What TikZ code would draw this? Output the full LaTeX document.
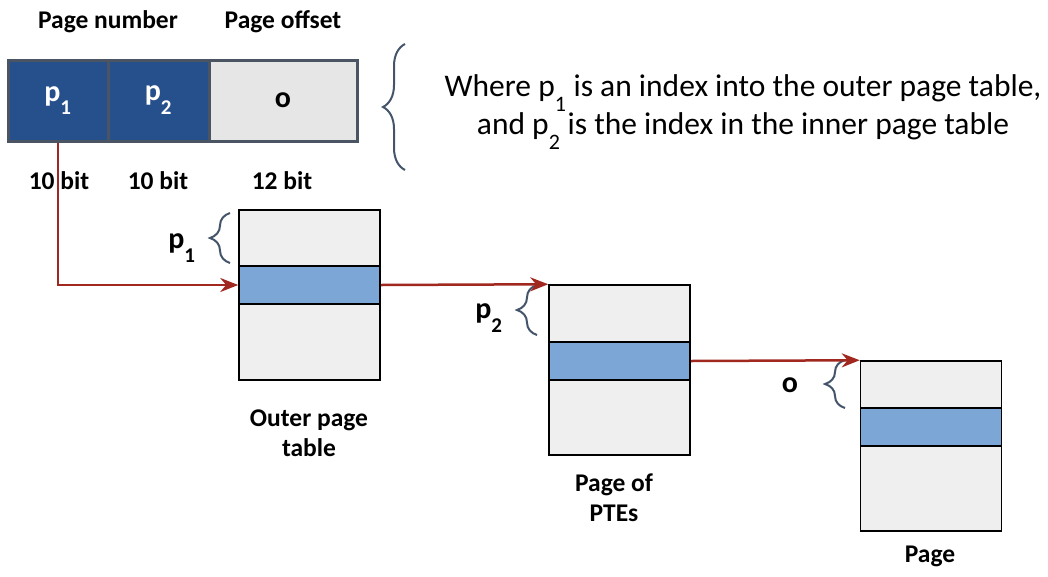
\documentclass[tikz,border=0pt]{standalone}
\usepackage{fontspec}
\setmainfont{Carlito}
\usepackage{tikz}
\usetikzlibrary{arrows.meta}
\usetikzlibrary{decorations.pathreplacing}

\definecolor{pageblue}{RGB}{38,80,140}
\definecolor{fieldline}{RGB}{74,84,98}
\definecolor{offsetgrey}{RGB}{230,230,230}
\definecolor{tablegrey}{RGB}{239,239,239}
\definecolor{entryblue}{RGB}{123,166,214}
\definecolor{linkred}{RGB}{160,40,30}
\definecolor{bracegrey}{RGB}{68,84,106}

\newcommand{\lowsub}[1]{\raisebox{-0.6ex}{\textsubscript{#1}}}

\tikzset{
  field/.style={draw=fieldline, line width=3pt, minimum height=81pt, inner sep=0pt, font=\fontsize{30}{30}\selectfont\bfseries},
  tablebox/.style={draw=black, fill=tablegrey, line width=1.5pt, minimum width=141pt, minimum height=170pt, inner sep=0pt},
  entry/.style={draw=black, fill=entryblue, line width=1.5pt, minimum width=141pt, minimum height=38pt, inner sep=0pt},
  link/.style={draw=linkred, line width=2.5pt, -{Stealth[length=18pt,width=14pt]}},
  curly/.style={draw=bracegrey, line width=2pt, decorate, decoration={brace, amplitude=#1}},
  boldlabel/.style={font=\fontsize{25.5}{30}\selectfont\bfseries, align=center, inner sep=0pt},
  bracelabel/.style={font=\fontsize{30}{30}\selectfont\bfseries, inner sep=0pt},
}

\begin{document}
\begin{tikzpicture}[x=1pt, y=-1pt]
\useasboundingbox (0,0) rectangle (1048,576);
% address fields
\node[field, fill=pageblue, minimum width=100pt, text=white] (p1) at (58,100.5) {p\lowsub{1}};
\node[field, fill=pageblue, minimum width=101pt, text=white] (p2) at (158.5,100.5) {p\lowsub{2}};
\node[field, fill=offsetgrey, minimum width=148pt] (o) at (283,100.5) {o};
% labels fields
\node[boldlabel] (pagenumber) at (108,22) {Page number};
\node[boldlabel] (pageoffset) at (283,22) {Page offset};
\node[boldlabel] (bitsa) at (59,181) {10 bit};
\node[boldlabel] (bitsb) at (158,181) {10 bit};
\node[boldlabel] (bitsc) at (282,181) {12 bit};
% note
\coordinate (notetop) at (405,44);
\coordinate (notebottom) at (405,170);
\draw[curly=22pt] (notebottom) -- (notetop);
\node[font=\fontsize{31.5}{38}\selectfont, align=center, inner sep=0pt] (note) at (743,112)
  {Where p\lowsub{1} is an index into the outer page table,\\ and p\lowsub{2} is the index in the inner page table};
% tables
\node[tablebox] (outer) at (309.5,295) {};
\node[entry] (outerentry) at (309.5,285) {};
\node[tablebox] (ptes) at (619.5,370) {};
\node[entry] (ptesentry) at (619.5,361) {};
\node[tablebox] (page) at (931,446) {};
\node[entry] (pageentry) at (931,427) {};
% labels tables
\node[boldlabel] (outerlabel) at (309,433) {Outer page\\table};
\node[boldlabel] (pteslabel) at (614,498) {Page of\\PTEs};
\node[boldlabel] (pagelabel) at (930,556) {Page};
% braces
\coordinate (outertop) at (230,213);
\coordinate (outerbottom) at (230,263);
\coordinate (ptestop) at (537,285);
\coordinate (ptesbottom) at (537,335);
\coordinate (pagetop) at (845,360);
\coordinate (pagebottom) at (845,408);
\draw[curly=20pt] (outerbottom) -- (outertop);
\draw[curly=20pt] (ptesbottom) -- (ptestop);
\draw[curly=20pt] (pagebottom) -- (pagetop);
\node[bracelabel] (p1mark) at (182,248) {p\lowsub{1}};
\node[bracelabel] (p2mark) at (489,318) {p\lowsub{2}};
\node[bracelabel] (omark) at (790,385) {o};
% draws links
\draw[link] (p1.south) |- (outerentry.west);
\draw[link] (outerentry.east) -- (ptes.north west);
\draw[link] (ptesentry.east) -- (page.north west);
\end{tikzpicture}
\end{document}
